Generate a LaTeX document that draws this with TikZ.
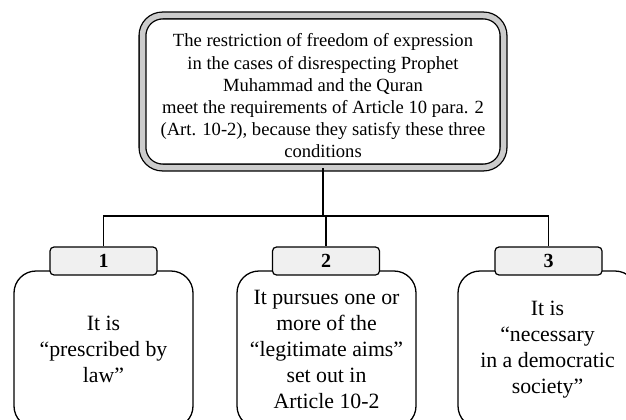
\documentclass[tikz,border=0pt]{standalone}
\usepackage{fontspec}
\setmainfont{Liberation Serif}
\begin{document}
\begin{tikzpicture}[x=1pt,y=-1pt,
  topbox/.style={draw=black, line width=1.3pt, double=gray!40, double distance=5.5pt,
    rounded corners=20pt, fill=white, inner sep=0pt},
  toptext/.style={align=center, inner sep=0pt,
    font=\fontsize{18.6}{22.2}\selectfont},
  bodybox/.style={draw=black, line width=1.3pt, rounded corners=22pt, fill=white,
    align=center, inner sep=0pt, minimum width=179pt, minimum height=157pt,
    font=\fontsize{21.8}{26}\selectfont},
  labbox/.style={draw=black, line width=1.2pt, rounded corners=4pt, fill=gray!12,
    inner sep=0pt, minimum width=107pt, minimum height=28pt,
    font=\fontsize{20}{22}\selectfont\bfseries},
  conn/.style={draw=black, line width=1.8pt}
]
\useasboundingbox (0,0) rectangle (626,420);
\node[topbox, minimum width=361pt, minimum height=152pt] (top) at (323,91.5) {};
\node[toptext] (tt) at (323,96)
  {The restriction of freedom of expression\\
   in the cases of disrespecting Prophet\\
   Muhammad and the Quran\\
   meet the requirements of Article 10 para. 2\\
   (Art. 10-2), because they satisfy these three\\
   conditions};
\node[bodybox] (b1) at (103.5,349.5) {It is\\ “prescribed by\\ law”};
\node[bodybox] (b2) at (326.5,349.5) {It pursues one or\\ more of the\\ “legitimate aims”\\ set out in\\ Article 10-2};
\node[bodybox] (b3) at (547.5,349.5) {It is\\ “necessary\\ in a democratic\\ society”};
\node[labbox] (l1) at (103.5,261) {1};
\node[labbox] (l2) at (326,261) {2};
\node[labbox] (l3) at (548.5,261) {3};
\coordinate (hb) at (325,216);
\draw[conn] (top.south) -- (top.south |- hb);
\draw[conn] (l1.north) -- (l1.north |- hb) -- (l3.north |- hb) -- (l3.north);
\draw[conn] (l2.north |- hb) -- (l2.north);
\end{tikzpicture}
\end{document}
